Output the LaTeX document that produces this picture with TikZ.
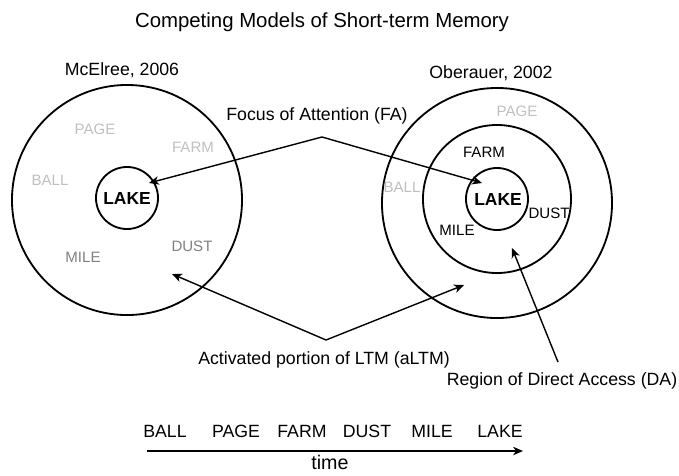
\documentclass[tikz,border=0pt]{standalone}
\usepackage{fontspec}
\setmainfont{Liberation Sans}
\usetikzlibrary{arrows.meta}
\tikzset{
  ring/.style={circle, draw, line width=1.3pt, inner sep=0pt},
  word/.style={font=\fontsize{10.7}{12}\selectfont},
  faint/.style={word, text=black!25},
  dim/.style={word, text=black!50},
  focus/.style={font=\fontsize{12.4}{14}\selectfont\bfseries},
  caption/.style={font=\fontsize{12.6}{15}\selectfont},
  tick/.style={font=\fontsize{12.6}{15}\selectfont},
  pointer/.style={line width=1pt, -{Stealth[length=7pt, width=6pt, inset=2pt]}}
}

\begin{document}
\begin{tikzpicture}[x=0.025cm, y=-0.025cm]
        \useasboundingbox (0,0) rectangle (679,475);
        \node (title) [font=\fontsize{14.5}{17}\selectfont] at (322, 22) {Competing Models of Short-term Memory};
        \node (mcName) [caption] at (122, 70) {McElree, 2006};
        \node (obName) [caption] at (491, 73) {Oberauer, 2002};
        \node (mcOuter) [ring, minimum size=5.75cm] at (127, 200) {};
        \node (mcInner) [ring, minimum size=1.55cm] at (127, 198) {};
        \node (obOuter) [ring, minimum size=5.75cm] at (497, 203) {};
        \node (obMiddle) [ring, minimum size=3.7cm] at (497, 199) {};
        \node (obInner) [ring, minimum size=1.55cm] at (497, 199) {};
        \node (mcPage) [faint] at (95, 129) {PAGE};
        \node (mcFarm) [faint] at (193, 147) {FARM};
        \node (mcBall) [faint] at (50, 180) {BALL};
        \node (mcLake) [focus] at (127, 198) {LAKE};
        \node (mcDust) [dim] at (192, 246) {DUST};
        \node (mcMile) [dim] at (83, 257) {MILE};
        \node (obPage) [faint] at (517, 111) {PAGE};
        \node (obFarm) [word] at (484, 152) {FARM};
        \node (obBall) [faint] at (402, 187) {BALL};
        \node (obLake) [focus] at (498, 199) {LAKE};
        \node (obDust) [word] at (549, 213) {DUST};
        \node (obMile) [word] at (457, 230) {MILE};
        \node (faLabel) [caption] at (317, 116) {Focus of Attention (FA)};
        \node (altmLabel) [caption] at (324, 360) {Activated portion of LTM (aLTM)};
        \node (daLabel) [caption] at (562, 381) {Region of Direct Access (DA)};
        \coordinate (faJoin) at (322, 137);
        \coordinate (faLeft) at (149, 183);
        \coordinate (faRight) at (482, 183);
        \coordinate (altmJoin) at (326, 340);
        \coordinate (altmLeft) at (172, 274);
        \coordinate (altmRight) at (464, 285);
        \coordinate (daFoot) at (558, 362);
        \coordinate (daTip) at (512, 248);
        \draw (faJoin) edge [pointer] (faLeft);
        \draw (faJoin) edge [pointer] (faRight);
        \draw (altmJoin) edge [pointer] (altmLeft);
        \draw (altmJoin) edge [pointer] (altmRight);
        \draw (daFoot) edge [pointer] (daTip);
        \node (tBall) [tick] at (165, 431) {BALL};
        \node (tPage) [tick] at (236, 431) {PAGE};
        \node (tFarm) [tick] at (302, 431) {FARM};
        \node (tDust) [tick] at (367, 431) {DUST};
        \node (tMile) [tick] at (432, 431) {MILE};
        \node (tLake) [tick] at (500, 431) {LAKE};
        \coordinate (timeStart) at (147, 451);
        \coordinate (timeEnd) at (523, 451);
        \draw (timeStart) edge [pointer] (timeEnd);
        \node (timeLabel) [font=\fontsize{14}{16}\selectfont, inner sep=1pt] at (330, 462) {time};
\end{tikzpicture}
\end{document}
